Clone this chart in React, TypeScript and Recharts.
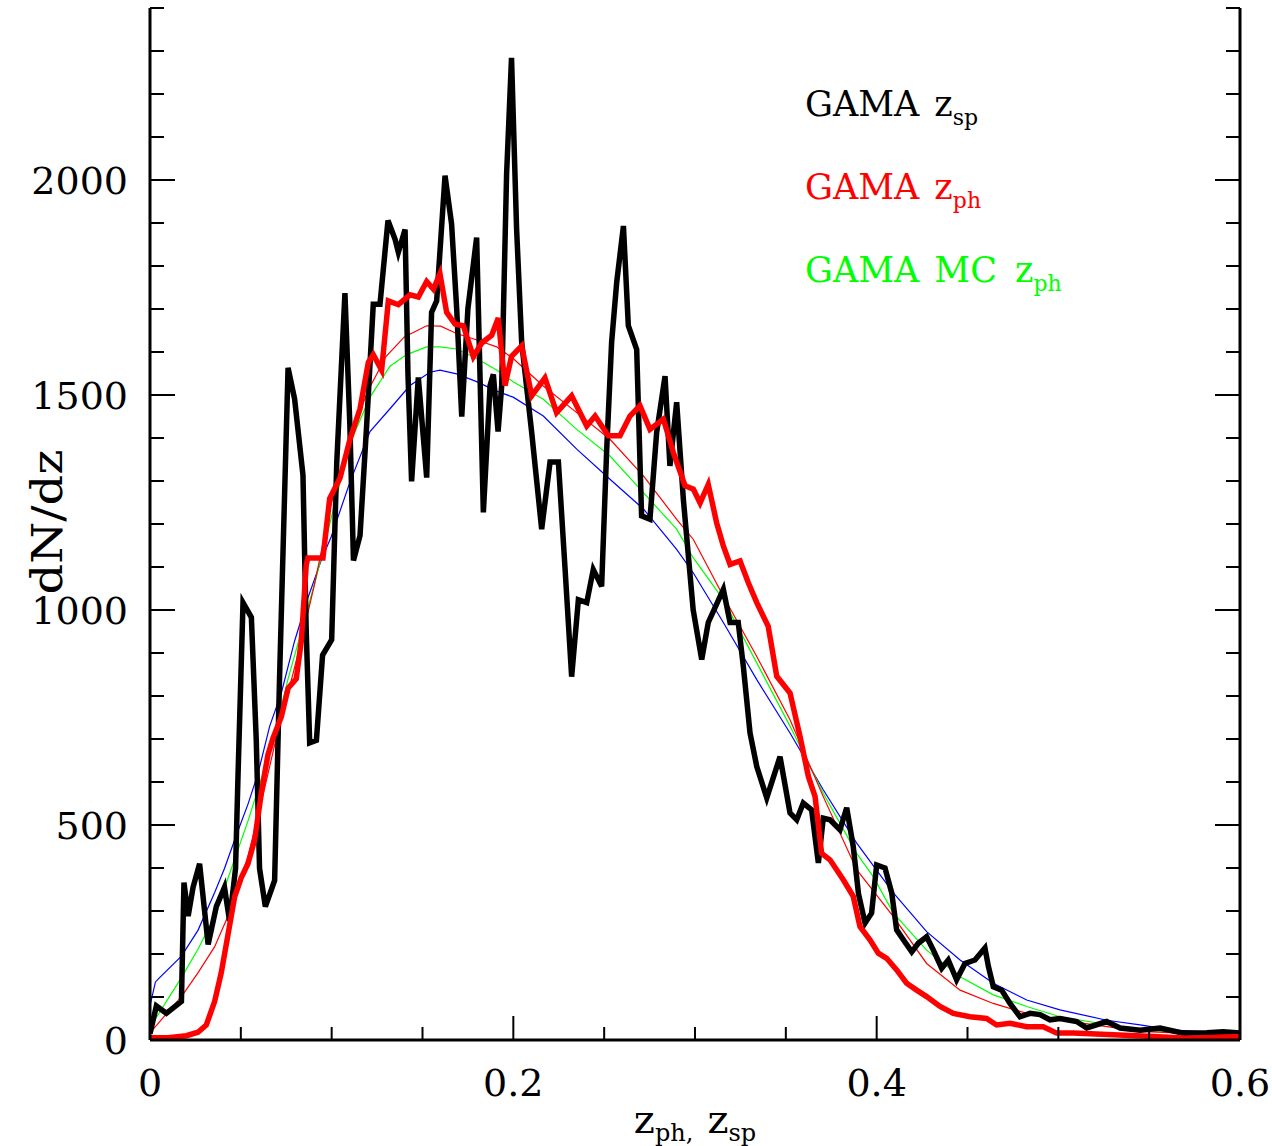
import { Line, LineChart, XAxis, YAxis } from 'recharts';

document.body.style.margin = '0';

const W = 1272;
const H = 1146;
const PLOT_LEFT = 150;
const PLOT_RIGHT = 1240;
const PLOT_TOP = 8;
const PLOT_BOTTOM = 1040;
const FONT = '"DejaVu Serif", serif';

const xTicks = [0, 0.05, 0.1, 0.15, 0.2, 0.25, 0.3, 0.35, 0.4, 0.45, 0.5, 0.55, 0.6];
const xMajorTicks = [0, 0.2, 0.4, 0.6];
const xTickLabels = ['0', '0.2', '0.4', '0.6'];
const yTicks = [
  0, 100, 200, 300, 400, 500, 600, 700, 800, 900, 1000, 1100, 1200, 1300, 1400, 1500, 1600, 1700, 1800,
  1900, 2000, 2100, 2200, 2300, 2400,
];
const yMajorTicks = [0, 500, 1000, 1500, 2000];

// GAMA spectroscopic redshifts (thick black)
const gamaZsp: [number, number][] = [
  [0.0, 15], [0.0035, 79], [0.009, 62], [0.0173, 90], [0.0187, 366], [0.021, 288], [0.0237, 355],
  [0.0273, 410], [0.032, 222], [0.0365, 310], [0.041, 355], [0.0438, 277], [0.0471, 399], [0.0484, 608],
  [0.0512, 1017], [0.0558, 983], [0.0585, 697], [0.0603, 399], [0.0635, 310], [0.0686, 371], [0.0713, 840],
  [0.076, 1563], [0.0796, 1491], [0.0842, 1314], [0.086, 950], [0.0879, 691], [0.0916, 697], [0.095, 895],
  [0.0989, 923], [0.1, 931], [0.1028, 1343], [0.1073, 1737], [0.11, 1433], [0.112, 1115], [0.1156, 1173],
  [0.1193, 1433], [0.1229, 1711], [0.1266, 1711], [0.131, 1906], [0.1349, 1862], [0.1367, 1832],
  [0.1404, 1885], [0.142, 1548], [0.144, 1299], [0.1477, 1541], [0.1523, 1308], [0.155, 1692],
  [0.1578, 1719], [0.1624, 2010], [0.166, 1898], [0.1688, 1702], [0.1716, 1450], [0.175, 1701],
  [0.1798, 1866], [0.1835, 1227], [0.1872, 1522], [0.189, 1548], [0.1916, 1415], [0.1936, 1522],
  [0.1963, 2015], [0.199, 2284], [0.2018, 1886], [0.2046, 1622], [0.2101, 1413], [0.2156, 1188],
  [0.2202, 1344], [0.2248, 1344], [0.2284, 1101], [0.2321, 845], [0.2358, 1024], [0.2404, 1017],
  [0.244, 1094], [0.2486, 1055], [0.2514, 1374], [0.2541, 1622], [0.2569, 1762], [0.2606, 1893],
  [0.2633, 1661], [0.2679, 1606], [0.2706, 1219], [0.2752, 1211], [0.2789, 1413], [0.2835, 1544],
  [0.2862, 1335], [0.2899, 1483], [0.2936, 1257], [0.299, 1000], [0.3037, 885], [0.3073, 971],
  [0.3156, 1048], [0.3193, 971], [0.3238, 971], [0.3266, 869], [0.3303, 714], [0.334, 636], [0.3395, 563],
  [0.3468, 659], [0.3523, 528], [0.356, 512], [0.3596, 551], [0.3642, 535], [0.3679, 412], [0.3706, 516],
  [0.3743, 512], [0.3798, 489], [0.3835, 540], [0.3871, 450], [0.39, 340], [0.3936, 272], [0.3972, 295],
  [0.4, 407], [0.4046, 400], [0.4083, 342], [0.411, 256], [0.4147, 233], [0.4193, 205], [0.4229, 225],
  [0.4275, 240], [0.4312, 209], [0.4358, 167], [0.4394, 186], [0.444, 140], [0.4486, 178], [0.4541, 186],
  [0.4596, 214], [0.4615, 171], [0.4642, 124], [0.4688, 116], [0.4734, 85], [0.4789, 54], [0.4844, 62],
  [0.4899, 59], [0.4954, 47], [0.5009, 50], [0.5101, 43], [0.5156, 28], [0.5266, 43], [0.534, 28],
  [0.545, 23], [0.556, 28], [0.5687, 16], [0.5817, 17], [0.5908, 19], [0.6, 16],
];

// GAMA photometric redshifts (thick red)
const gamaZph: [number, number][] = [
  [0.0, 5], [0.01, 5], [0.02, 10], [0.0264, 18], [0.031, 35], [0.0356, 90], [0.0392, 156], [0.0429, 244],
  [0.0466, 333], [0.0502, 377], [0.0539, 410], [0.0576, 465], [0.0613, 575], [0.0649, 663], [0.0677, 702],
  [0.0723, 752], [0.076, 818], [0.0805, 840], [0.0833, 928], [0.086, 1105], [0.0869, 1121], [0.0952, 1121],
  [0.0989, 1259], [0.1046, 1307], [0.1101, 1397], [0.1156, 1468], [0.1202, 1576], [0.1229, 1594],
  [0.1275, 1558], [0.1312, 1719], [0.1367, 1710], [0.1431, 1733], [0.1477, 1728], [0.1523, 1764],
  [0.156, 1746], [0.1596, 1782], [0.1633, 1692], [0.1679, 1665], [0.1725, 1661], [0.178, 1589],
  [0.1826, 1621], [0.1881, 1639], [0.1917, 1679], [0.1954, 1522], [0.199, 1590], [0.2046, 1614],
  [0.2101, 1498], [0.2174, 1540], [0.2238, 1459], [0.2321, 1498], [0.2404, 1428], [0.245, 1451],
  [0.2523, 1405], [0.2587, 1405], [0.2642, 1451], [0.2697, 1475], [0.2752, 1420], [0.2826, 1444],
  [0.2881, 1366], [0.2945, 1289], [0.2991, 1281], [0.3028, 1249], [0.3073, 1292], [0.3119, 1203],
  [0.3156, 1149], [0.3193, 1106], [0.3248, 1114], [0.3293, 1064], [0.334, 1017], [0.3403, 962],
  [0.345, 846], [0.3523, 807], [0.3578, 706], [0.3624, 613], [0.3661, 566], [0.3697, 434], [0.3743, 419],
  [0.3817, 372], [0.3871, 334], [0.3908, 264], [0.3963, 233], [0.4009, 202], [0.4055, 190], [0.411, 163],
  [0.4165, 132], [0.422, 116], [0.4275, 101], [0.4349, 78], [0.4422, 62], [0.4514, 54], [0.4605, 50],
  [0.466, 35], [0.4734, 39], [0.4826, 31], [0.4917, 31], [0.4991, 16], [0.5083, 16], [0.5303, 12],
  [0.5523, 8], [0.5706, 4], [0.5853, 6], [0.6, 8],
];

// smooth curves (thin)
const smoothRed: [number, number][] = [
  [0.0, 15], [0.0025, 29], [0.0173, 101], [0.0264, 156], [0.0356, 217], [0.0429, 288], [0.0484, 354],
  [0.0539, 426], [0.0613, 553], [0.0686, 686], [0.076, 807], [0.0833, 928], [0.0906, 1061], [0.0998, 1248],
  [0.11, 1400], [0.12, 1510], [0.13, 1590], [0.14, 1635], [0.1523, 1661], [0.16, 1660], [0.1688, 1643],
  [0.18, 1628], [0.1908, 1612], [0.1999, 1585], [0.2165, 1521], [0.2349, 1459], [0.2532, 1397],
  [0.2716, 1312], [0.2899, 1211], [0.2991, 1164], [0.3156, 1032], [0.334, 892], [0.3523, 745],
  [0.3706, 566], [0.389, 396], [0.4092, 287], [0.4275, 178], [0.4459, 116], [0.4642, 85], [0.4826, 62],
  [0.5009, 47], [0.545, 20], [0.6, 10],
];

const smoothGreen: [number, number][] = [
  [0.0, 40], [0.0025, 46], [0.0173, 145], [0.0264, 211], [0.0356, 288], [0.0448, 399], [0.0539, 509],
  [0.0613, 608], [0.0686, 708], [0.076, 840], [0.0833, 950], [0.0906, 1061], [0.0998, 1215], [0.1101, 1388],
  [0.1211, 1495], [0.1321, 1567], [0.1413, 1594], [0.1523, 1612], [0.1596, 1612], [0.1688, 1607],
  [0.1798, 1585], [0.1908, 1558], [0.1999, 1531], [0.2165, 1490], [0.2349, 1420], [0.2532, 1358],
  [0.2716, 1273], [0.2899, 1188], [0.2991, 1121], [0.3156, 1024], [0.334, 877], [0.3523, 730],
  [0.3706, 574], [0.389, 434], [0.3981, 380], [0.4092, 295], [0.4275, 209], [0.4459, 147], [0.4642, 105],
  [0.4826, 78], [0.5009, 54], [0.545, 23], [0.5725, 16], [0.6, 12],
];

const smoothBlue: [number, number][] = [
  [0.0, 80], [0.003, 135], [0.0053, 145], [0.0173, 195], [0.0264, 255], [0.0356, 343], [0.041, 399],
  [0.0475, 476], [0.0539, 548], [0.0594, 619], [0.0659, 730], [0.0723, 807], [0.0796, 928], [0.0869, 1028],
  [0.0943, 1116], [0.0998, 1171], [0.1101, 1298], [0.1211, 1415], [0.1321, 1468], [0.1431, 1522],
  [0.1541, 1553], [0.1596, 1558], [0.1688, 1549], [0.1798, 1531], [0.1908, 1509], [0.1999, 1495],
  [0.2165, 1451], [0.2349, 1374], [0.2532, 1304], [0.2716, 1235], [0.2899, 1141], [0.2991, 1086],
  [0.3156, 971], [0.334, 838], [0.3523, 714], [0.3706, 582], [0.389, 458], [0.4092, 342], [0.4275, 252],
  [0.4459, 186], [0.4642, 132], [0.4826, 93], [0.5009, 70], [0.5266, 46], [0.545, 35], [0.5633, 23],
  [0.5817, 19], [0.6, 19],
];

const toRows = (pts: [number, number][]) => pts.map(([z, n]) => ({ z, n }));

const isXMajor = (v: number) => xMajorTicks.some((m) => Math.abs(m - v) < 1e-9);
const isYMajor = (v: number) => yMajorTicks.includes(v);

function BottomTick({ x, payload }: any) {
  const v = payload.value as number;
  const major = isXMajor(v);
  const idx = xMajorTicks.findIndex((m) => Math.abs(m - v) < 1e-9);
  return (
    <g>
      <line x1={x} x2={x} y1={PLOT_BOTTOM} y2={PLOT_BOTTOM - (major ? 24 : 13)} stroke="#000" strokeWidth={2} />
      {major && (
        <text x={x} y={PLOT_BOTTOM + 56} textAnchor="middle" fontFamily={FONT} fontSize={38} fill="#000">
          {xTickLabels[idx]}
        </text>
      )}
    </g>
  );
}

function TopTick({ x, payload }: any) {
  const major = isXMajor(payload.value);
  return <line x1={x} x2={x} y1={PLOT_TOP} y2={PLOT_TOP + (major ? 24 : 13)} stroke="#000" strokeWidth={2} />;
}

function LeftTick({ y, payload }: any) {
  const v = payload.value as number;
  const major = isYMajor(v);
  return (
    <g>
      <line x1={PLOT_LEFT} x2={PLOT_LEFT + (major ? 25 : 14)} y1={y} y2={y} stroke="#000" strokeWidth={2} />
      {major && (
        <text x={128} y={y + 14} textAnchor="end" fontFamily={FONT} fontSize={38} fill="#000">
          {v}
        </text>
      )}
    </g>
  );
}

function RightTick({ y, payload }: any) {
  const major = isYMajor(payload.value);
  return <line x1={PLOT_RIGHT} x2={PLOT_RIGHT - (major ? 25 : 14)} y1={y} y2={y} stroke="#000" strokeWidth={2} />;
}

const frame = { stroke: '#000', strokeWidth: 3 };

export default function App() {
  return (
    <div style={{ position: 'relative', width: W, height: H, background: '#fff' }}>
      <LineChart width={W} height={H} margin={{ top: PLOT_TOP, right: 0, bottom: 0, left: 0 }}>
        <XAxis
          xAxisId="b"
          dataKey="z"
          type="number"
          domain={[0, 0.6]}
          ticks={xTicks}
          interval={0}
          height={H - PLOT_BOTTOM}
          tickSize={0}
          tickMargin={0}
          tickLine={false}
          axisLine={frame}
          tick={(p: any) => <BottomTick {...p} />}
          allowDataOverflow
        />
        <XAxis
          xAxisId="t"
          orientation="top"
          dataKey="z"
          type="number"
          domain={[0, 0.6]}
          ticks={xTicks}
          interval={0}
          height={0}
          tickSize={0}
          tickMargin={0}
          tickLine={false}
          axisLine={frame}
          tick={(p: any) => <TopTick {...p} />}
          allowDataOverflow
        />
        <YAxis
          yAxisId="l"
          type="number"
          domain={[0, 2400]}
          ticks={yTicks}
          interval={0}
          width={PLOT_LEFT}
          tickSize={0}
          tickMargin={0}
          tickLine={false}
          axisLine={frame}
          tick={(p: any) => <LeftTick {...p} />}
          allowDataOverflow
        />
        <YAxis
          yAxisId="r"
          orientation="right"
          type="number"
          domain={[0, 2400]}
          ticks={yTicks}
          interval={0}
          width={W - PLOT_RIGHT}
          tickSize={0}
          tickMargin={0}
          tickLine={false}
          axisLine={frame}
          tick={(p: any) => <RightTick {...p} />}
          allowDataOverflow
        />
        <Line xAxisId="b" yAxisId="l" data={toRows(smoothBlue)} dataKey="n" stroke="#0000ff" strokeWidth={1.2} dot={false} isAnimationActive={false} />
        <Line xAxisId="b" yAxisId="l" data={toRows(smoothGreen)} dataKey="n" stroke="#00ff00" strokeWidth={1.2} dot={false} isAnimationActive={false} />
        <Line xAxisId="b" yAxisId="l" data={toRows(smoothRed)} dataKey="n" stroke="#ff0000" strokeWidth={1.2} dot={false} isAnimationActive={false} />
        <Line xAxisId="b" yAxisId="l" data={toRows(gamaZsp)} dataKey="n" stroke="#000000" strokeWidth={5.5} dot={false} isAnimationActive={false} />
        <Line xAxisId="b" yAxisId="l" data={toRows(gamaZph)} dataKey="n" stroke="#ff0000" strokeWidth={5.5} dot={false} isAnimationActive={false} />
      </LineChart>

      <svg width={W} height={H} style={{ position: 'absolute', left: 0, top: 0, pointerEvents: 'none' }}>
        <g fontFamily={FONT}>
          <text x={805} y={116} fill="#000">
            <tspan fontSize={35}>GAMA</tspan>
            <tspan dx={15} fontSize={35}>z</tspan>
            <tspan dy={9} fontSize={22}>sp</tspan>
          </text>
          <text x={805} y={199} fill="#ff0000">
            <tspan fontSize={35}>GAMA</tspan>
            <tspan dx={15} fontSize={35}>z</tspan>
            <tspan dy={9} fontSize={22}>ph</tspan>
          </text>
          <text x={805} y={282} fill="#00ff00">
            <tspan fontSize={35}>GAMA</tspan>
            <tspan dx={15} fontSize={35}>MC</tspan>
            <tspan dx={18} fontSize={35}>z</tspan>
            <tspan dy={9} fontSize={22}>ph</tspan>
          </text>
          <text x={(PLOT_LEFT + PLOT_RIGHT) / 2} y={1133} textAnchor="middle" fill="#000">
            <tspan fontSize={40}>z</tspan>
            <tspan dy={8} fontSize={24}>ph,</tspan>
            <tspan dx={14} dy={-8} fontSize={40}>z</tspan>
            <tspan dy={8} fontSize={24}>sp</tspan>
          </text>
          <text
            transform="translate(62, 522) rotate(-90)"
            textAnchor="middle"
            fontSize={42}
            fill="#000"
            textLength={145}
            lengthAdjust="spacingAndGlyphs"
          >
            dN/dz
          </text>
        </g>
      </svg>
    </div>
  );
}
